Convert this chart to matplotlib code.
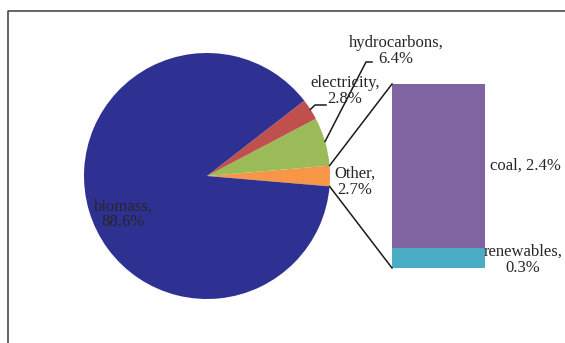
import matplotlib.pyplot as plt
import numpy as np

plt.rcParams['font.family'] = ['Liberation Serif', 'DejaVu Serif']

pie_labels = ['Other', 'hydrocarbons', 'electricity', 'biomass']
pie_values = [2.7, 6.4, 2.8, 88.6]
pie_colors = ['#F79646', '#9BBB59', '#C0504D', '#2E3192']

bar_labels = ['renewables', 'coal']
bar_values = [0.3, 2.4]
bar_colors = ['#4BACC6', '#8064A2']

W, H = 565, 343
fig = plt.figure(figsize=(W / 100, H / 100), dpi=100)
ax = fig.add_axes([0, 0, 1, 1])


def py(y):
    # pixel row from the top -> data y
    return H - y


cx, cy, r = 207, py(176), 123
total = sum(pie_values)
start = -pie_values[0] / total * 180
wedges, _ = ax.pie(pie_values, colors=pie_colors, startangle=start,
                   center=(cx, cy), radius=r, frame=True,
                   wedgeprops=dict(linewidth=0))
ax.set_xlim(0, W)
ax.set_ylim(0, H)
ax.set_aspect('equal')
ax.axis('off')

# bar of the "Other" slice
bx, bw = 392, 93
b_bottom, b_height = py(268), 184
scale = b_height / sum(bar_values)
bottom = b_bottom
for v, c in zip(bar_values, bar_colors):
    ax.bar(bx + bw / 2, v * scale, width=bw, bottom=bottom, color=c, linewidth=0)
    bottom += v * scale

# connector lines
a0 = np.deg2rad(wedges[0].theta1)
a1 = np.deg2rad(wedges[0].theta2)
ax.plot([cx + r * np.cos(a1), bx], [cy + r * np.sin(a1), b_bottom + b_height],
        color='#1a1a1a', lw=1.1)
ax.plot([cx + r * np.cos(a0), bx], [cy + r * np.sin(a0), b_bottom],
        color='#1a1a1a', lw=1.1)

# leader lines
for w, (x1, y1, x2) in zip(wedges[1:3], [(366, 62, 372), (315, 105, 326)]):
    m = np.deg2rad((w.theta1 + w.theta2) / 2)
    ax.plot([cx + r * np.cos(m), x1, x2], [cy + r * np.sin(m), py(y1), py(y1)],
            color='#1a1a1a', lw=1.1)

tc = '#262626'
fs = 12
texts = [
    (396, 51, f'{pie_labels[1]},\n{pie_values[1]}%'),
    (345, 91, f'{pie_labels[2]},\n{pie_values[2]}%'),
    (355, 182, f'{pie_labels[0]},\n{pie_values[0]}%'),
    (123, 214.5, f'{pie_labels[3]},\n{pie_values[3]}%'),
    (525, 166, f'{bar_labels[1]}, {bar_values[1]}%'),
    (523, 260, f'{bar_labels[0]},\n{bar_values[0]}%'),
]
for x, y, s in texts:
    ax.text(x, py(y), s, ha='center', va='center', fontsize=fs, color=tc,
            linespacing=1.0)

# chart frame (cut off on the right and bottom)
ax.plot([7.5, 7.5, W + 5], [-5, py(10.5), py(10.5)], color='#3a3a3a', lw=1.1,
        clip_on=False)

fig.savefig('out.png', dpi=100)
